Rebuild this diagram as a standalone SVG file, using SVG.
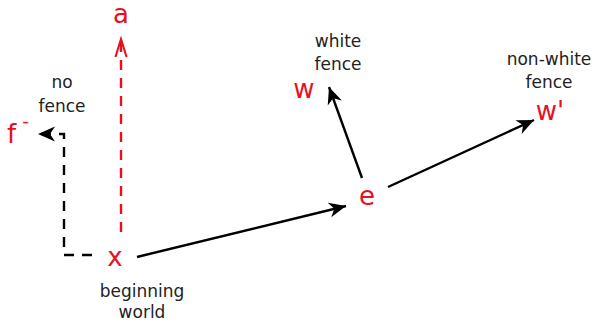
<svg xmlns="http://www.w3.org/2000/svg" width="595" height="323" viewBox="0 0 595 323">
<style>
.lbl{font-family:"DejaVu Sans",sans-serif;font-size:26px;fill:#e8101e;text-anchor:middle}
.cap{font-family:"DejaVu Sans",sans-serif;font-size:17px;fill:#222;text-anchor:middle}
.arr{stroke:#000;stroke-width:2.4;fill:none}
.dash{stroke-dasharray:10,8}
.red{stroke:#e8101e}
</style>
<defs>
<marker id="ah" markerUnits="userSpaceOnUse" markerWidth="24" markerHeight="20" refX="0" refY="0" viewBox="-20 -10 24 20" orient="auto" overflow="visible">
<path d="M0,0 L-17,-7.5 L-12,0 L-17,7.5 Z" fill="#000"/>
</marker>
<marker id="ahr" markerUnits="userSpaceOnUse" markerWidth="24" markerHeight="20" refX="0" refY="0" viewBox="-24 -10 28 20" orient="auto" overflow="visible">
<path d="M-21,-6.5 L0,0 L-21,6.5" fill="none" stroke="#e8101e" stroke-width="2.4"/>
</marker>
</defs>
<g id="connectors">
<path class="arr dash red" d="M121,232 L121,39" marker-end="url(#ahr)"/>
<path class="arr dash" d="M92,255 L64,255 L64,134 L38,134" marker-end="url(#ah)"/>
<path class="arr" d="M137,257 L346,206" marker-end="url(#ah)"/>
<path class="arr" d="M362,178 L329,87" marker-end="url(#ah)"/>
<path class="arr" d="M388,187 L534,120" marker-end="url(#ah)"/>
</g>
<g id="node-a"><text class="lbl" x="121" y="23">a</text></g>
<g id="node-f"><text class="lbl" x="7" y="143" style="text-anchor:start">f<tspan dx="6" dy="-16" font-size="18">-</tspan></text>
<text class="cap" x="62" y="88">no</text><text class="cap" x="62" y="112">fence</text></g>
<g id="node-x"><text class="lbl" x="115" y="266">x</text>
<text class="cap" x="142" y="297">beginning</text><text class="cap" x="142" y="318">world</text></g>
<g id="node-e"><text class="lbl" x="367" y="205">e</text></g>
<g id="node-w"><text class="lbl" x="304" y="98">w</text>
<text class="cap" x="338" y="47">white</text><text class="cap" x="338" y="70">fence</text></g>
<g id="node-w2"><text class="lbl" x="550" y="120">w'</text>
<text class="cap" x="549" y="65">non-white</text><text class="cap" x="549" y="88">fence</text></g>
</svg>
